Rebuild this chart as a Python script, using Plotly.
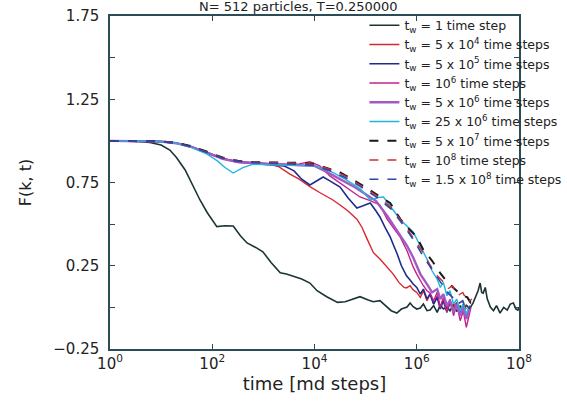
import plotly.graph_objects as go

# ---- data: (log10 time, F(k,t)) ----
TW_1 = [(0,1.0),(0.4,1.0),(0.78,0.99),(1.0,0.975),(1.17,0.945),(1.3,0.9),(1.47,0.825),(1.6,0.74),(1.76,0.645),(1.9,0.57),(2.09,0.485),(2.25,0.49),(2.41,0.489),(2.55,0.43),(2.68,0.387),(2.85,0.36),(2.99,0.334),(3.15,0.27),(3.33,0.208),(3.45,0.2),(3.58,0.188),(3.75,0.17),(3.91,0.146),(4.05,0.1),(4.24,0.064),(4.45,0.03),(4.6,0.034),(4.75,0.05),(4.89,0.064),(5.05,0.045),(5.15,0.034),(5.28,0.04),(5.4,0.01),(5.5,-0.02),(5.61,-0.034),(5.7,-0.01),(5.81,0.002),(5.87,0.026),(5.93,0.004),(6.0,-0.01),(6.07,-0.004),(6.13,0.02),(6.2,-0.02),(6.26,-0.016),(6.33,0.01),(6.4,-0.03),(6.46,0.015),(6.52,-0.01),(6.59,0.002),(6.65,-0.02),(6.72,0.02),(6.78,-0.025),(6.85,0.01),(6.91,-0.028),(6.97,0.015),(7.03,-0.01),(7.1,0.026),(7.15,0.06),(7.2,0.1),(7.24,0.146),(7.27,0.09),(7.3,0.086),(7.34,0.12),(7.38,0.05),(7.44,0.002),(7.5,-0.02),(7.56,0.01),(7.63,-0.034),(7.7,0.0),(7.77,-0.016),(7.83,0.02),(7.89,0.026),(7.94,-0.01),(7.98,-0.016),(8.0,0.0)]

TW_5E4 = [(0,1.0),(0.5,1.0),(1.0,0.995),(1.3,0.985),(1.6,0.962),(1.9,0.925),(2.2,0.893),(2.5,0.875),(2.8,0.866),(3.1,0.86),(3.3,0.845),(3.52,0.8),(3.7,0.77),(3.91,0.725),(4.1,0.69),(4.36,0.645),(4.5,0.615),(4.65,0.58),(4.83,0.53),(4.93,0.48),(5.03,0.41),(5.15,0.33),(5.28,0.29),(5.4,0.25),(5.54,0.2),(5.65,0.15),(5.75,0.12),(5.8,0.117),(5.87,0.13),(5.93,0.105),(6.0,0.09),(6.07,0.06),(6.13,0.1),(6.2,0.04),(6.26,0.08),(6.33,0.02),(6.4,0.07),(6.46,0.0),(6.52,0.05),(6.59,-0.02),(6.65,0.04),(6.72,0.0),(6.78,0.03),(6.85,-0.03),(6.91,0.02),(6.97,-0.01)]

TW_5E5 = [(0,1.0),(0.5,1.0),(1.0,0.996),(1.3,0.987),(1.6,0.965),(1.9,0.93),(2.2,0.895),(2.5,0.872),(2.8,0.865),(3.1,0.858),(3.4,0.85),(3.6,0.82),(3.75,0.77),(3.91,0.735),(4.05,0.76),(4.17,0.783),(4.3,0.76),(4.5,0.723),(4.65,0.66),(4.83,0.597),(4.95,0.61),(5.09,0.627),(5.2,0.58),(5.28,0.543),(5.38,0.48),(5.48,0.423),(5.55,0.37),(5.61,0.327),(5.7,0.25),(5.8,0.19),(5.87,0.164),(5.93,0.14),(6.0,0.12),(6.07,0.08),(6.13,0.11),(6.2,0.05),(6.26,0.08),(6.33,0.02),(6.4,0.06),(6.46,-0.01),(6.52,0.04),(6.59,-0.03),(6.65,0.03),(6.72,-0.02),(6.78,0.02),(6.85,-0.04),(6.91,0.01),(6.97,-0.05),(7.03,0.0)]

TW_1E6 = [(0,1.0),(0.5,1.0),(1.0,0.995),(1.3,0.985),(1.6,0.962),(1.9,0.928),(2.2,0.893),(2.5,0.876),(2.8,0.868),(3.1,0.864),(3.4,0.86),(3.7,0.862),(3.91,0.875),(4.1,0.85),(4.3,0.79),(4.5,0.747),(4.7,0.70),(4.89,0.663),(5.1,0.64),(5.28,0.615),(5.42,0.53),(5.54,0.48),(5.68,0.42),(5.81,0.34),(5.93,0.243),(6.0,0.2),(6.07,0.16),(6.13,0.13),(6.2,0.1),(6.26,0.086),(6.33,0.04),(6.4,0.09),(6.46,0.0),(6.52,0.06),(6.59,-0.03),(6.65,0.05),(6.72,-0.05),(6.78,0.02),(6.85,-0.08),(6.91,-0.02),(6.97,-0.12),(7.02,-0.05),(7.06,0.0)]

TW_5E6 = [(0,1.0),(0.5,1.0),(1.0,0.996),(1.3,0.986),(1.6,0.963),(1.9,0.93),(2.2,0.892),(2.5,0.873),(2.8,0.865),(3.1,0.86),(3.4,0.858),(3.7,0.855),(4.0,0.85),(4.2,0.82),(4.5,0.77),(4.8,0.72),(5.0,0.68),(5.2,0.64),(5.42,0.55),(5.6,0.47),(5.81,0.37),(5.93,0.3),(6.07,0.2),(6.2,0.14),(6.3,0.09),(6.4,0.11),(6.46,0.05),(6.52,0.08),(6.59,0.01),(6.65,0.04),(6.72,-0.03),(6.78,0.02),(6.85,-0.05),(6.91,0.0),(6.97,-0.07),(7.03,-0.01)]

TW_25E6 = [(0,1.0),(0.5,1.0),(1.0,0.995),(1.3,0.985),(1.6,0.96),(1.9,0.92),(2.1,0.88),(2.25,0.84),(2.41,0.807),(2.6,0.84),(2.8,0.86),(3.1,0.858),(3.4,0.855),(3.7,0.855),(4.0,0.85),(4.3,0.82),(4.6,0.77),(4.9,0.71),(5.09,0.645),(5.25,0.66),(5.35,0.663),(5.5,0.6),(5.7,0.52),(5.93,0.453),(6.07,0.37),(6.2,0.29),(6.3,0.22),(6.4,0.17),(6.46,0.12),(6.52,0.15),(6.59,0.07),(6.65,0.1),(6.72,0.02),(6.78,0.05),(6.85,-0.02),(6.91,0.02),(6.97,-0.04),(7.03,0.01)]

TW_5E7 = [(0,1.0),(0.5,1.0),(1.0,0.997),(1.3,0.988),(1.6,0.967),(1.9,0.935),(2.2,0.9),(2.5,0.88),(2.8,0.872),(3.1,0.87),(3.4,0.87),(3.7,0.868),(4.0,0.862),(4.17,0.843),(4.5,0.81),(4.83,0.753),(5.15,0.69),(5.48,0.627),(5.68,0.53),(5.81,0.483),(6.0,0.423),(6.13,0.345),(6.3,0.28),(6.46,0.206),(6.6,0.15),(6.71,0.12),(6.85,0.08),(6.99,0.06),(7.05,0.03),(7.1,0.05)]

TW_1E8 = [(0,1.0),(0.5,1.0),(1.0,0.996),(1.3,0.987),(1.6,0.965),(1.9,0.932),(2.2,0.898),(2.5,0.88),(2.8,0.873),(3.1,0.872),(3.4,0.87),(3.7,0.866),(4.0,0.858),(4.3,0.83),(4.6,0.79),(4.9,0.735),(5.2,0.675),(5.5,0.6),(5.75,0.5),(5.95,0.41),(6.1,0.34),(6.25,0.26),(6.4,0.19),(6.5,0.16),(6.6,0.11),(6.7,0.13),(6.8,0.07),(6.9,0.09),(7.0,0.03),(7.08,0.05)]

TW_15E7 = [(0,1.0),(0.5,1.0),(1.0,0.996),(1.3,0.986),(1.6,0.964),(1.9,0.93),(2.2,0.896),(2.5,0.877),(2.8,0.87),(3.1,0.866),(3.4,0.864),(3.7,0.86),(4.0,0.852),(4.3,0.82),(4.6,0.78),(4.9,0.725),(5.2,0.665),(5.5,0.59),(5.75,0.49),(5.95,0.4),(6.1,0.32),(6.25,0.25),(6.4,0.18),(6.5,0.13),(6.6,0.09),(6.7,0.06),(6.8,0.02),(6.9,0.04),(6.97,-0.02),(7.05,0.01)]

LABELS = [
    "t<sub>w</sub> = 1 time step",
    "t<sub>w</sub> = 5 x 10<sup>4</sup> time steps",
    "t<sub>w</sub> = 5 x 10<sup>5</sup> time steps",
    "t<sub>w</sub> = 10<sup>6</sup> time steps",
    "t<sub>w</sub> = 5 x 10<sup>6</sup> time steps",
    "t<sub>w</sub> = 25 x 10<sup>6</sup> time steps",
    "t<sub>w</sub> = 5 x 10<sup>7</sup> time steps",
    "t<sub>w</sub> = 10<sup>8</sup> time steps",
    "t<sub>w</sub> = 1.5 x 10<sup>8</sup> time steps",
]
SERIES = [TW_1, TW_5E4, TW_5E5, TW_1E6, TW_5E6, TW_25E6, TW_5E7, TW_1E8, TW_15E7]
COLORS = ["#1c3436", "#d8282e", "#1e2c8e", "#c4228c", "#a458c4", "#22b4dc", "#1a1a1a", "#c83036", "#3046a8"]
DASHES = ["solid"] * 6 + ["dash"] * 3
WIDTHS = [1.6, 1.4, 1.6, 1.4, 2.4, 1.4, 2.0, 1.4, 1.6]

X_TICKS = [1, 1e2, 1e4, 1e6, 1e8]
X_TICKTEXT = ["10<sup>0</sup>", "10<sup>2</sup>", "10<sup>4</sup>", "10<sup>6</sup>", "10<sup>8</sup>"]
Y_TICKS = [-0.25, 0.0, 0.25, 0.5, 0.75, 1.0, 1.25, 1.5, 1.75]
Y_TICKTEXT = ["\u22120.25", "", "0.25", "", "0.75", "", "1.25", "", "1.75"]

FONT = "DejaVu Sans, Arial, sans-serif"
AXC = "#2a4c54"

fig = go.Figure()
for pts, lab, col, dash, w in zip(SERIES, LABELS, COLORS, DASHES, WIDTHS):
    fig.add_trace(go.Scatter(
        x=[10 ** e for e, _ in pts], y=[v for _, v in pts],
        mode="lines", name=lab,
        line=dict(color=col, dash=dash, width=w),
    ))

fig.update_layout(
    width=567, height=401,
    margin=dict(l=110, r=48, t=16, b=52, autoexpand=False),
    paper_bgcolor="white", plot_bgcolor="white",
    showlegend=True,
    legend=dict(
        x=0.622, y=1.016, xanchor="left", yanchor="top",
        bgcolor="rgba(0,0,0,0)", borderwidth=0,
        font=dict(family=FONT, size=12.5, color="#222"),
        tracegroupgap=0, itemwidth=30,
    ),
    annotations=[dict(
        text="N= 512 particles, T=0.250000", xref="paper", yref="paper",
        x=0.46, y=1.0 + 10 / 333, xanchor="center", yanchor="middle",
        showarrow=False, font=dict(family=FONT, size=13, color="#222"),
    )],
)
fig.update_xaxes(
    type="log", range=[0, 8], automargin=False,
    tickvals=X_TICKS, ticktext=X_TICKTEXT,
    ticks="inside", ticklen=5, tickcolor=AXC,
    showline=True, linecolor=AXC, linewidth=1.5, mirror="ticks",
    showgrid=False, zeroline=False,
    tickfont=dict(family=FONT, size=15, color="#222"),
    title=dict(text="time [md steps]", font=dict(family=FONT, size=18, color="#222"), standoff=4),
)
fig.update_yaxes(
    range=[-0.25, 1.75], automargin=False,
    tickvals=Y_TICKS, ticktext=Y_TICKTEXT,
    ticks="inside", ticklen=5, tickcolor=AXC,
    showline=True, linecolor=AXC, linewidth=1.5, mirror="ticks",
    showgrid=False, zeroline=False,
    tickfont=dict(family=FONT, size=15, color="#222"),
    ticklabelstandoff=6,
    title=dict(text="F(k, t)", font=dict(family=FONT, size=16, color="#222"), standoff=18),
)

fig.write_html("out.html", post_script="document.body.style.margin='0px';",
               config={"displayModeBar": False})
